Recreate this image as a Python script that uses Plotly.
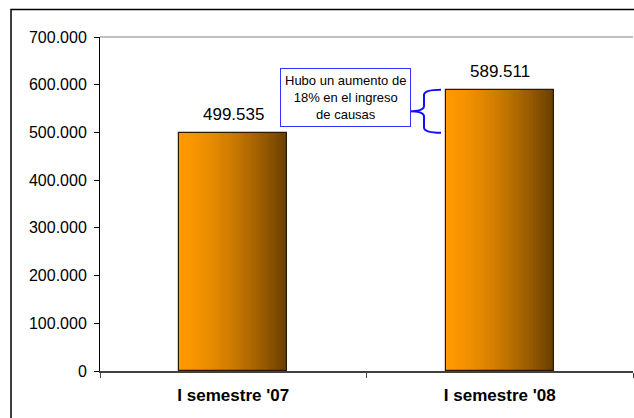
import plotly.graph_objects as go

categories = ["I semestre '07", "I semestre '08"]
values = [499535, 589511]
y_ticks = [0, 100000, 200000, 300000, 400000, 500000, 600000, 700000]
note_text = "Hubo un aumento de<br>18% en el ingreso<br>de causas"

FONT = "Arial, Liberation Sans, sans-serif"
bar_w = 0.405
N = 48
c0 = (255, 153, 0)
c1 = (104, 62, 0)

fig = go.Figure()
for i in range(N):
    t = (i + 0.5) / N
    k = t ** 1.5
    col = tuple(round(c0[j] + (c1[j] - c0[j]) * k) for j in range(3))
    fig.add_trace(go.Bar(
        x=categories, y=values, width=bar_w / N * 1.05,
        offset=-bar_w / 2 + i * bar_w / N,
        marker=dict(color="rgb(%d,%d,%d)" % col, line=dict(width=0)),
        showlegend=False, hoverinfo="skip"))

fig.add_trace(go.Bar(
    x=categories, y=values, width=bar_w, offset=-bar_w / 2,
    marker=dict(color="rgba(0,0,0,0)", line=dict(color="#2a1800", width=1.2)),
    showlegend=False))

# value labels above bars
annotations = [
    dict(x=c, y=v, xref="x", yref="y", text=f"{v:,}".replace(",", "."),
         showarrow=False, yanchor="bottom", yshift=7,
         font=dict(family=FONT, size=17, color="black"))
    for c, v in zip(categories, values)
]

# brace between the two values
def px2paper(px):
    return (px - 100) / 533.0

top, bot = values[1], values[0]
mid = (top + bot) / 2
r = 11000
xt, xs, xa = px2paper(409), px2paper(424), px2paper(441)
path = (f"M {xa},{top} Q {xs},{top} {xs},{top - r} L {xs},{mid + r} "
        f"Q {xs},{mid} {xt},{mid} Q {xs},{mid} {xs},{mid - r} "
        f"L {xs},{bot + r} Q {xs},{bot} {xa},{bot}")

annotations.append(dict(
    xref="paper", yref="paper", x=px2paper(345.5), y=(371 - 97.5) / 334,
    xanchor="center", yanchor="middle",
    text=note_text, showarrow=False, align="center",
    font=dict(family=FONT, size=13, color="black"),
    bgcolor="white", bordercolor="#3333ff", borderwidth=1, borderpad=4))

fig.update_layout(
    template="none",
    width=634, height=418,
    margin=dict(l=100, r=1, t=37, b=47, autoexpand=False),
    paper_bgcolor="white", plot_bgcolor="white",
    barmode="overlay", bargap=0,
    separators=",.",
    font=dict(family=FONT, color="black"),
    xaxis=dict(type="category", range=[-0.5, 1.5], showline=True,
               linecolor="#404040", linewidth=1.5, ticks="outside",
               tickson="boundaries", ticklen=5, tickcolor="#404040",
               showgrid=False, ticklabelstandoff=8, automargin=False,
               tickfont=dict(family=FONT, size=17, color="black", weight="bold")),
    yaxis=dict(range=[0, 700000], tickvals=y_ticks, tickformat=",d",
               showline=True, linecolor="black", linewidth=1,
               ticks="outside", ticklen=5, tickcolor="black",
               showgrid=False, zeroline=False, ticklabelstandoff=4,
               automargin=False,
               tickfont=dict(family=FONT, size=16, color="black")),
    shapes=[
        dict(type="line", xref="paper", yref="paper", x0=0, x1=1, y0=1, y1=1,
             line=dict(color="#808080", width=1)),
        dict(type="rect", xref="paper", yref="paper",
             x0=(11 - 100) / 533, x1=1.2, y0=-0.3, y1=(371 - 9.5) / 334,
             line=dict(color="black", width=1.5), fillcolor="rgba(0,0,0,0)"),
        dict(type="path", xref="paper", yref="y", path=path,
             line=dict(color="#1010ff", width=2)),
    ],
    annotations=annotations,
)

fig.write_html("out.html", config={"displayModeBar": False},
               post_script="document.body.style.margin='0px';")
